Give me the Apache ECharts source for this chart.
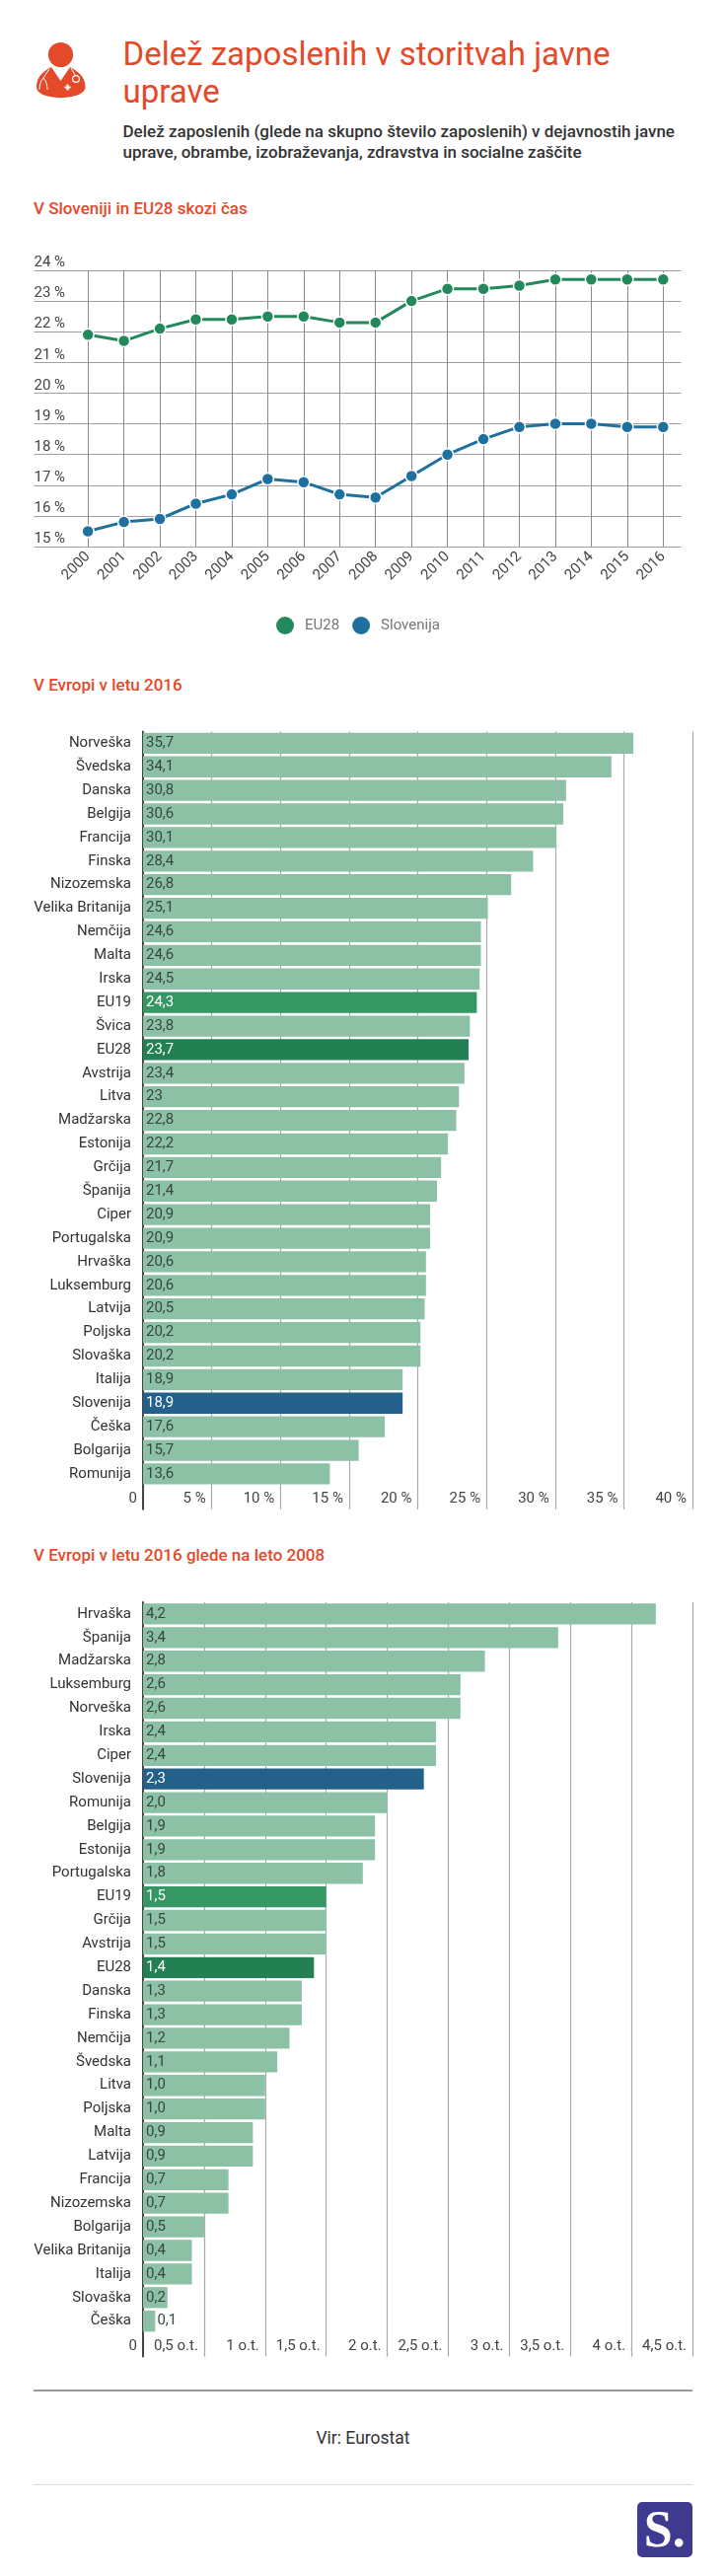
<!DOCTYPE html>
<html>
<head>
<meta charset="utf-8">
<title>Delež zaposlenih v storitvah javne uprave</title>
<script src="https://cdn.jsdelivr.net/npm/echarts@6/dist/echarts.min.js"></script>
<style>
html, body { margin: 0; padding: 0; background: #fff; }
#page { position: relative; width: 736px; height: 2611px; overflow: hidden; font-family: Roboto, sans-serif; }
#page > * { position: absolute; }
.title { left: 124.5px; top: 36px; width: 520px; font-size: 33px; line-height: 38px; color: #e4492a; }
.lead { left: 124.5px; top: 122.5px; width: 590px; font-size: 17px; line-height: 21px; font-weight: 500; color: #333; white-space: nowrap; }
.section { left: 34px; font-size: 17px; line-height: 20px; font-weight: 500; color: #e4492a; }
.rule { left: 34px; width: 668px; }
.source { left: 0; width: 736px; top: 2461px; text-align: center; font-size: 17.5px; line-height: 20px; color: #333; }
.logo { left: 645.5px; top: 2536px; width: 56.5px; height: 56px; border-radius: 5px; background: #3d3a8f; color: #fff; font-family: "Liberation Serif", serif; font-weight: bold; font-size: 52px; line-height: 56px; text-align: center; }
</style>
</head>
<body>
<div id="page">
    <svg style="left:0;top:0" width="110" height="110" viewBox="0 0 110 110">
        <circle cx="61.5" cy="55.5" r="12.6" fill="#e4492a"/>
        <path d="M37 88C37 78 44 72 52 68L61.5 82L71 68C79 72 86.5 78 86.5 88C86.5 95 75 99 61.5 99C48 99 37 95 37 88Z" fill="#e4492a"/>
        <path d="M50 70L44 79C41 82 40 87 40 91M44 79C47 82 48 87 48 91" fill="none" stroke="#fff" stroke-width="1"/>
        <path d="M72 69L76 76" fill="none" stroke="#fff" stroke-width="1"/>
        <circle cx="77" cy="80" r="3.4" fill="none" stroke="#fff" stroke-width="1.2"/>
        <path d="M68.5 85.5v6M65.5 88.5h6" stroke="#fff" stroke-width="2"/>
    </svg>
    <div class="title">Delež zaposlenih v storitvah javne uprave</div>
    <div class="lead">Delež zaposlenih (glede na skupno število zaposlenih) v dejavnostih javne<br>uprave, obrambe, izobraževanja, zdravstva in socialne zaščite</div>

    <div class="section" style="top:201px">V Sloveniji in EU28 skozi čas</div>
    <div id="line_chart" style="left:0;top:240px;width:736px;height:420px"></div>

    <div class="section" style="top:684px">V Evropi v letu 2016</div>
    <div id="bar_share" style="left:0;top:720px;width:736px;height:830px"></div>

    <div class="section" style="top:1566px">V Evropi v letu 2016 glede na leto 2008</div>
    <div id="bar_change" style="left:0;top:1600px;width:736px;height:800px"></div>

    <div class="rule" style="top:2422px;height:2px;background:#999"></div>
    <div class="source">Vir: Eurostat</div>
    <div class="rule" style="top:2518px;height:1px;background:#ddd"></div>
    <div class="logo">S.</div>
</div>
<script>
// skozi cas
var years = ['2000','2001','2002','2003','2004','2005','2006','2007','2008','2009','2010','2011','2012','2013','2014','2015','2016'];
var eu28 = [21.9,21.7,22.1,22.4,22.4,22.5,22.5,22.3,22.3,23.0,23.4,23.4,23.5,23.7,23.7,23.7,23.7];
var slovenija = [15.5,15.8,15.9,16.4,16.7,17.2,17.1,16.7,16.6,17.3,18.0,18.5,18.9,19.0,19.0,18.9,18.9];

// leto 2016
var shareNames = ['Norveška','Švedska','Danska','Belgija','Francija','Finska','Nizozemska','Velika Britanija','Nemčija','Malta','Irska','EU19','Švica','EU28','Avstrija','Litva','Madžarska','Estonija','Grčija','Španija','Ciper','Portugalska','Hrvaška','Luksemburg','Latvija','Poljska','Slovaška','Italija','Slovenija','Češka','Bolgarija','Romunija'];
var shareValues = [35.7,34.1,30.8,30.6,30.1,28.4,26.8,25.1,24.6,24.6,24.5,24.3,23.8,23.7,23.4,23,22.8,22.2,21.7,21.4,20.9,20.9,20.6,20.6,20.5,20.2,20.2,18.9,18.9,17.6,15.7,13.6];

// 2016 glede na 2008
var changeNames = ['Hrvaška','Španija','Madžarska','Luksemburg','Norveška','Irska','Ciper','Slovenija','Romunija','Belgija','Estonija','Portugalska','EU19','Grčija','Avstrija','EU28','Danska','Finska','Nemčija','Švedska','Litva','Poljska','Malta','Latvija','Francija','Nizozemska','Bolgarija','Velika Britanija','Italija','Slovaška','Češka'];
var changeValues = [4.2,3.4,2.8,2.6,2.6,2.4,2.4,2.3,2.0,1.9,1.9,1.8,1.5,1.5,1.5,1.4,1.3,1.3,1.2,1.1,1.0,1.0,0.9,0.9,0.7,0.7,0.5,0.4,0.4,0.2,0.1];

var barColors = { EU19: '#359763', EU28: '#238053', Slovenija: '#24618a' };
var font = 'Roboto';

// prazna kategorija spredaj, da crte segajo do oznak
function notFirst(index) { return index !== 0; }

var lineChart = echarts.init(document.getElementById('line_chart'));
lineChart.setOption({
    animation: false,
    textStyle: { fontFamily: font },
    legend: {
        left: 275,
        top: 380,
        icon: 'circle',
        itemWidth: 18,
        itemHeight: 18,
        itemGap: 13,
        itemStyle: { borderWidth: 0 },
        textStyle: { fontFamily: font, fontSize: 15, color: '#777', padding: [0, 0, 0, 6] },
        data: ['EU28', 'Slovenija']
    },
    grid: { left: 34.5, width: 656, top: 34, height: 280 },
    xAxis: {
        type: 'category',
        data: [''].concat(years),
        axisLine: { show: false },
        axisTick: { interval: notFirst, alignWithLabel: true, length: 5, lineStyle: { color: '#888' } },
        axisLabel: { interval: 0, rotate: 45, margin: 8, fontFamily: font, fontSize: 15, color: '#444' },
        splitLine: { show: true, interval: notFirst, alignWithLabel: true, lineStyle: { color: '#8a8a8a', width: 1 } }
    },
    yAxis: {
        type: 'value',
        min: 15,
        max: 24,
        interval: 1,
        axisLine: { show: false },
        axisTick: { show: false },
        axisLabel: {
            inside: true,
            margin: 0,
            verticalAlign: 'bottom',
            padding: [0, 0, 0, 0],
            fontFamily: font,
            fontSize: 15,
            color: '#444',
            formatter: '{value} %'
        },
        splitLine: { lineStyle: { color: '#a0a0a0', width: 1.2 } }
    },
    series: [{
        name: 'EU28',
        type: 'line',
        data: [null].concat(eu28),
        symbol: 'circle',
        symbolSize: 12,
        itemStyle: { color: '#23895c', borderColor: '#fff', borderWidth: 1.5 },
        lineStyle: { color: '#23895c', width: 3 }
    }, {
        name: 'Slovenija',
        type: 'line',
        data: [null].concat(slovenija),
        symbol: 'circle',
        symbolSize: 12,
        itemStyle: { color: '#1f6f9f', borderColor: '#fff', borderWidth: 1.5 },
        lineStyle: { color: '#1f6f9f', width: 3 }
    }]
});

// vodoravni stolpci, zadnja prazna vrstica je za oznake osi
function barOption(names, values, gridTop, maxValue, step, valueText, axisText) {
    var items = values.map(function(v, i) {
        var hi = barColors[names[i]];
        var item = { value: v, itemStyle: { color: hi || '#8dc1a5' } };
        if (hi) {
            item.label = { color: '#fff' };
        }
        if (v < 0.15) {
            item.label = { position: 'right', distance: 2 };
        }
        return item;
    });
    return {
        animation: false,
        textStyle: { fontFamily: font },
        grid: { left: 145, width: 557, top: gridTop, height: (names.length + 1) * 23.89 },
        xAxis: {
            type: 'value',
            min: 0,
            max: maxValue,
            interval: step,
            axisLine: { show: false },
            axisTick: { show: false },
            axisLabel: {
                inside: true,
                margin: 3,
                align: 'right',
                padding: [0, 6, 0, 0],
                fontFamily: font,
                fontSize: 15,
                color: '#444',
                showMinLabel: true,
                showMaxLabel: true,
                formatter: axisText
            },
            splitLine: { lineStyle: { color: '#aaa', width: 1.2 } }
        },
        yAxis: {
            type: 'category',
            inverse: true,
            data: names.concat(['']),
            axisLine: { lineStyle: { color: '#444', width: 2 } },
            axisTick: { show: false },
            axisLabel: { interval: 0, margin: 12, fontFamily: font, fontSize: 15, color: '#333' }
        },
        series: [{
            type: 'bar',
            barWidth: 21.3,
            data: items.concat([null]),
            label: {
                show: true,
                position: 'insideLeft',
                distance: 3,
                fontFamily: font,
                fontSize: 15,
                color: '#37473e',
                formatter: function(p) { return valueText(p.value); }
            }
        }]
    };
}

var barShare = echarts.init(document.getElementById('bar_share'));
barShare.setOption(barOption(shareNames, shareValues, 21.4, 40, 5,
    function(v) { return String(v).replace('.', ','); },
    function(v) { return v === 0 ? '0' : v + ' %'; }));

var barChange = echarts.init(document.getElementById('bar_change'));
barChange.setOption(barOption(changeNames, changeValues, 24, 4.5, 0.5,
    function(v) { return v.toFixed(1).replace('.', ','); },
    function(v) { return v === 0 ? '0' : String(v).replace('.', ',') + ' o.t.'; }));
</script>
</body>
</html>
